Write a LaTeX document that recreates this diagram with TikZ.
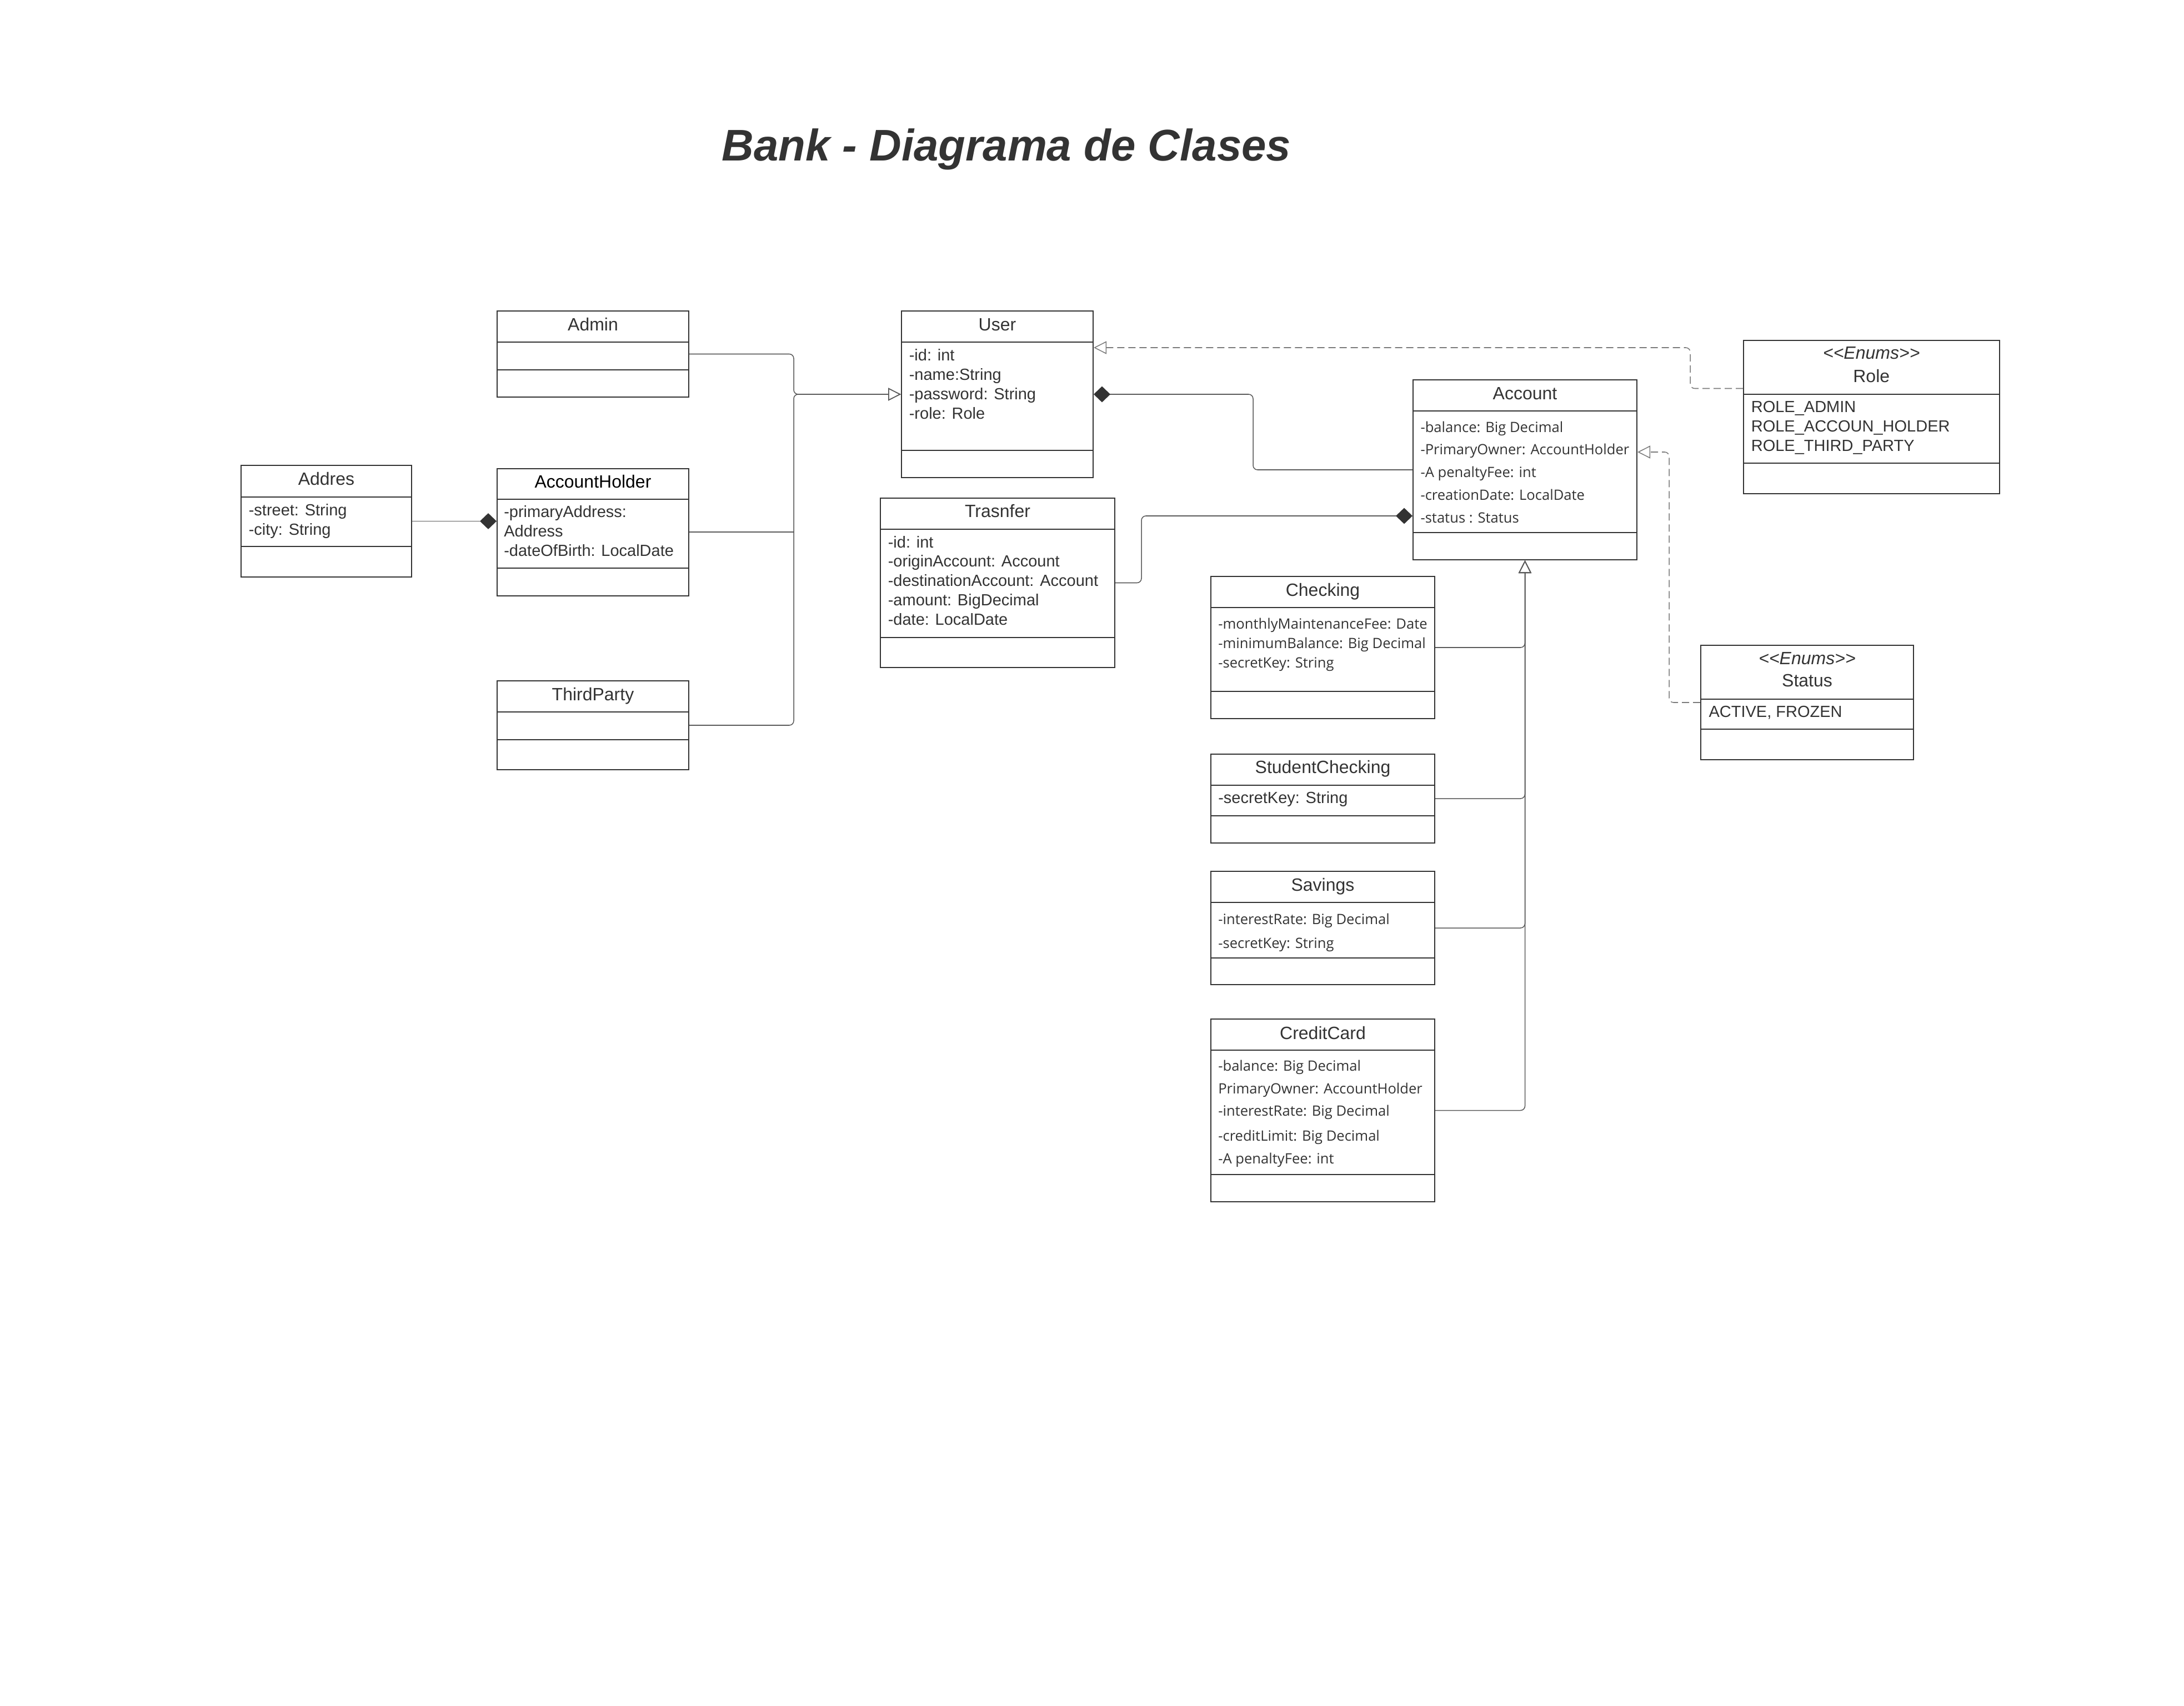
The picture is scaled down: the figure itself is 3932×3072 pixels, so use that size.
\documentclass[tikz,border=0pt]{standalone}
\usepackage{fontspec}
\setmainfont{Liberation Sans}
\newfontfamily\osans{Open Sans}
\usetikzlibrary{arrows.meta,fit}
\definecolor{ink}{HTML}{333333}
\definecolor{connc}{HTML}{5A5A5A}
\definecolor{dashc}{HTML}{7A7A7A}
\newcommand\umlbox[7]{%
  \node[box,fit={(#2,#3) (#4,#5)}] (#1) {};
  \draw[sep] (#2,#6) -- (#4,#6);
  \draw[sep] (#2,#7) -- (#4,#7);
}
\newcommand\enumstereo{<\kern0pt<\kern0pt Enums\kern0pt>\kern0pt>}
\begin{document}
\begin{tikzpicture}[x=0.25pt,y=-0.25pt,
  box/.style={draw=ink,line width=0.5pt,inner sep=0pt},
  sep/.style={draw=ink,line width=0.5pt},
  cname/.style={anchor=base,inner sep=0pt,text=ink,font=\fontsize{8pt}{9.6pt}\selectfont},
  stereo/.style={anchor=base,inner sep=0pt,text=ink,font=\fontsize{8pt}{9.6pt}\selectfont\itshape},
  attra/.style={anchor=base west,inner sep=0pt,text=ink,font=\fontsize{7.25pt}{8.7pt}\selectfont},
  attro/.style={anchor=base west,inner sep=0pt,text=ink,font=\osans\fontsize{6.4pt}{7.7pt}\selectfont},
  conn/.style={draw=connc,line width=0.38pt,rounded corners=2pt},
  dep/.style={draw=dashc,line width=0.38pt,rounded corners=2pt,dash pattern=on 3.25pt off 1.75pt},
  gen/.style={-{Triangle[open,length=5.75pt,width=5.75pt]}},
  compstart/.style={{Diamond[length=7.5pt,width=7.2pt,color=ink]}-},
  compend/.style={-{Diamond[length=7.5pt,width=7.2pt,color=ink]}}
]
\fill[white] (0,0) rectangle (3932,3072);
\useasboundingbox (0,0) rectangle (3932,3072);

% title
\node[anchor=base,inner sep=0pt,text=ink,font=\fontsize{19.95pt}{24pt}\selectfont\bfseries\itshape] (title) at (1812,290) {Bank - Diagrama de Clases};

% ---------- class boxes ----------
\umlbox{admin}{895}{560}{1240}{715}{616}{666}
\umlbox{user}{1623}{560}{1968}{860}{616}{811}
\umlbox{addres}{434}{838}{741}{1039}{895}{984}
\umlbox{holder}{895}{844}{1240}{1072.5}{899}{1022.5}
\umlbox{third}{895}{1226}{1240}{1386}{1281.5}{1332}
\umlbox{trans}{1585}{897}{2007}{1202}{952.7}{1147.7}
\umlbox{account}{2544}{684}{2947}{1008}{740}{959}
\umlbox{role}{3139}{613}{3599.5}{888.5}{709.5}{834}
\umlbox{status}{3062}{1162}{3445}{1368}{1258.7}{1312.7}
\umlbox{checking}{2180}{1038}{2583}{1294}{1094}{1245}
\umlbox{student}{2180}{1358}{2583}{1518}{1414}{1469}
\umlbox{savings}{2180}{1569}{2583}{1773}{1625}{1725}
\umlbox{credit}{2180}{1835}{2583}{2164}{1891}{2115}

% ---------- class names ----------
\node[cname] (adminN) at (1067.5,595) {Admin};
\node[cname] (userN) at (1795.5,595) {User};
\node[cname] (addresN) at (587.5,873) {Addres};
\node[cname,text=black] (holderN) at (1067.5,878) {AccountHolder};
\node[cname] (thirdN) at (1067.5,1261) {ThirdParty};
\node[cname] (transN) at (1796,931.7) {Trasnfer};
\node[cname] (accountN) at (2745.5,719.3) {Account};
\node[stereo] (roleS) at (3369.25,646.7) {\enumstereo};
\node[cname] (roleN) at (3369.25,688.3) {Role};
\node[stereo] (statusS) at (3253.5,1196.7) {\enumstereo};
\node[cname] (statusN) at (3253.5,1236.7) {Status};
\node[cname] (checkingN) at (2381.5,1073.3) {Checking};
\node[cname] (studentN) at (2381.5,1392.7) {StudentChecking};
\node[cname] (savingsN) at (2381.5,1604) {Savings};
\node[cname] (creditN) at (2381.5,1871) {CreditCard};

% ---------- attributes ----------
\node[attra] (u1) at (1636,649.3) {-id: int};
\node[attra] (u2) at (1636,684.3) {-name:String};
\node[attra] (u3) at (1636,719.3) {-password: String};
\node[attra] (u4) at (1636,754.3) {-role: Role};

\node[attra] (ad1) at (447,928.3) {-street: String};
\node[attra] (ad2) at (447,963.3) {-city: String};

\node[attra] (h1) at (906.5,931.7) {-primaryAddress:};
\node[attra] (h2) at (906.5,966.7) {Address};
\node[attra] (h3) at (906.5,1001.7) {-dateOfBirth: LocalDate};

\node[attra] (t1) at (1598,986) {-id: int};
\node[attra] (t2) at (1598,1020.7) {-originAccount: Account};
\node[attra] (t3) at (1598,1055.3) {-destinationAccount: Account};
\node[attra] (t4) at (1598,1090.7) {-amount: BigDecimal};
\node[attra] (t5) at (1598,1125) {-date: LocalDate};

\node[attro] (a1) at (2556.7,778.3) {-balance: Big Decimal};
\node[attro] (a2) at (2556.7,818.3) {-PrimaryOwner: AccountHolder};
\node[attro] (a3) at (2556.7,859.3) {-A penaltyFee: int};
\node[attro] (a4) at (2556.7,900) {-creationDate: LocalDate};
\node[attro] (a5) at (2556.7,941) {-status : Status};

\node[attra] (r1) at (3152,742.7) {ROLE\_ADMIN};
\node[attra] (r2) at (3152,777.3) {ROLE\_ACCOUN\_HOLDER};
\node[attra] (r3) at (3152,812.3) {ROLE\_THIRD\_PARTY};

\node[attra] (s1) at (3075.7,1291) {ACTIVE, FROZEN};

\node[attro] (c1) at (2192.5,1132.7) {-monthlyMaintenanceFee: Date};
\node[attro] (c2) at (2192.5,1167.7) {-minimumBalance: Big Decimal};
\node[attro] (c3) at (2192.5,1202.7) {-secretKey: String};

\node[attra] (sc1) at (2192.5,1446.7) {-secretKey: String};

\node[attro] (sv1) at (2192.5,1664.5) {-interestRate: Big Decimal};
\node[attro] (sv2) at (2192.5,1707.5) {-secretKey: String};

\node[attro] (cc1) at (2192.5,1928) {-balance: Big Decimal};
\node[attro] (cc2) at (2192.5,1969) {PrimaryOwner: AccountHolder};
\node[attro] (cc3) at (2192.5,2009) {-interestRate: Big Decimal};
\node[attro] (cc4) at (2192.5,2054) {-creditLimit: Big Decimal};
\node[attro] (cc5) at (2192.5,2095) {-A penaltyFee: int};

% ---------- helper coordinates ----------
\coordinate (tx) at (1429,0);
\coordinate (cx) at (2256,0);
\coordinate (tx2) at (2055,0);
\coordinate (ay) at (0,929);
\coordinate (rx) at (3043,0);
\coordinate (ry1) at (0,699.5);
\coordinate (ry2) at (0,626);
\coordinate (sx) at (3005,0);
\coordinate (sy) at (0,814);

% ---------- connectors ----------
\draw[conn,gen] (admin.east) -- (admin.east -| tx) -- (tx |- user.west) -- (user.west);
\draw[conn,gen] (third.east) -- (third.east -| tx) -- (tx |- user.west) -- (user.west);
\draw[conn] (holder.east) -- (holder.east -| tx);

\draw[conn,compend] (addres.east) -- (holder.west |- addres.east);

\draw[conn,compstart] (user.east) -- (user.east -| cx) -- (cx |- account.west) -- (account.west);
\draw[conn,compend] (trans.east) -- (trans.east -| tx2) -- (tx2 |- ay) -- (account.west |- ay);

\draw[dep,gen] (role.west |- ry1) -- (rx |- ry1) -- (rx |- ry2) -- (user.east |- ry2);
\draw[dep,gen] (status.west) -- (status.west -| sx) -- (sx |- sy) -- (account.east |- sy);

\foreach \c in {checking,student,savings,credit}
  \draw[conn,gen] (\c.east) -- (\c.east -| account.south) -- (account.south);
\end{tikzpicture}
\end{document}
